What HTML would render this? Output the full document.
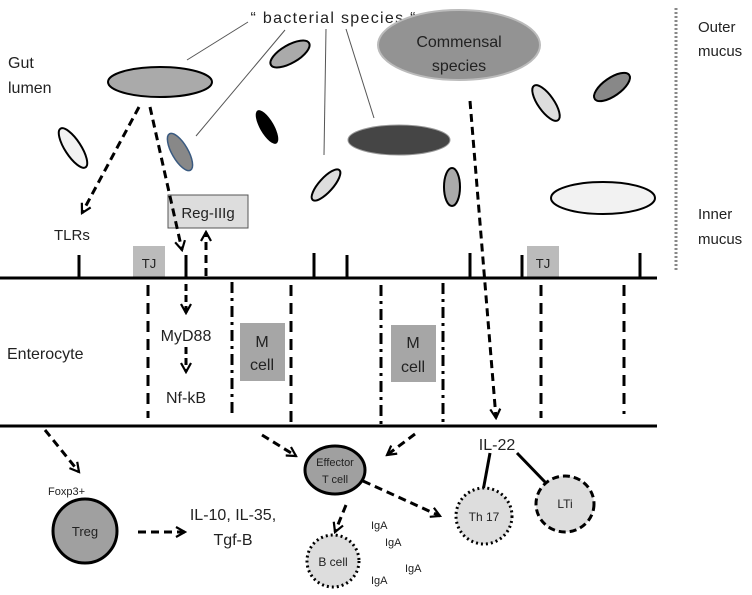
<!DOCTYPE html>
<html><head><meta charset="utf-8"><style>
html,body{margin:0;padding:0;background:#fff;}
svg{display:block;font-family:"Liberation Sans",sans-serif;}
</style></head><body>
<svg width="752" height="595" viewBox="0 0 752 595" xmlns="http://www.w3.org/2000/svg">
<defs>
<marker id="ah" viewBox="0 0 12 12" refX="10" refY="6" markerWidth="12" markerHeight="12" markerUnits="userSpaceOnUse" orient="auto">
<path d="M1,1 L10,6 L1,11" fill="none" stroke="#000" stroke-width="2.2"/>
</marker>
</defs>
<!-- text top -->
<text x="333" y="23" font-size="16" text-anchor="middle" fill="#222" textLength="165">“ bacterial species  “</text>
<text x="8" y="68" font-size="16" fill="#222">Gut</text>
<text x="8" y="93" font-size="16" fill="#222">lumen</text>
<text x="698" y="32" font-size="15" fill="#222">Outer</text>
<text x="698" y="56" font-size="15" fill="#222">mucus</text>
<text x="698" y="219" font-size="15" fill="#222">Inner</text>
<text x="698" y="244" font-size="15" fill="#222">mucus</text>
<line x1="676" y1="8" x2="676" y2="270" stroke="#888" stroke-width="3" stroke-dasharray="2,2"/>
<!-- thin label lines -->
<g stroke="#555" stroke-width="1">
<line x1="248" y1="22" x2="187" y2="60"/>
<line x1="285" y1="30" x2="196" y2="136"/>
<line x1="326" y1="29" x2="324" y2="155"/>
<line x1="346" y1="29" x2="374" y2="118"/>
</g>
<!-- bacteria -->
<ellipse cx="160" cy="82" rx="52" ry="15" fill="#aaa" stroke="#000" stroke-width="2"/>
<ellipse cx="459" cy="45" rx="81" ry="35" fill="#939393" stroke="#bbb" stroke-width="2"/>
<text x="459" y="47" font-size="16" text-anchor="middle" fill="#222">Commensal</text>
<text x="459" y="71" font-size="16" text-anchor="middle" fill="#222">species</text>
<ellipse cx="399" cy="140" rx="51" ry="15" fill="#454545" stroke="#999" stroke-width="1"/>
<ellipse cx="290" cy="54" rx="22" ry="9" transform="rotate(-30 290 54)" fill="#aaa" stroke="#000" stroke-width="2"/>
<ellipse cx="267" cy="127" rx="7" ry="19" transform="rotate(-30 267 127)" fill="#000"/>
<ellipse cx="73" cy="148" rx="8" ry="23" transform="rotate(-33 73 148)" fill="#f2f2f2" stroke="#000" stroke-width="2"/>
<ellipse cx="180" cy="152" rx="8" ry="21" transform="rotate(-30 180 152)" fill="#888" stroke="#3a5a80" stroke-width="1.5"/>
<ellipse cx="326" cy="185" rx="7" ry="20" transform="rotate(42 326 185)" fill="#ddd" stroke="#000" stroke-width="2"/>
<ellipse cx="452" cy="187" rx="8" ry="19" fill="#aaa" stroke="#000" stroke-width="2"/>
<ellipse cx="546" cy="103" rx="8" ry="21" transform="rotate(-35 546 103)" fill="#ddd" stroke="#000" stroke-width="2"/>
<ellipse cx="612" cy="87" rx="21" ry="9" transform="rotate(-35 612 87)" fill="#888" stroke="#000" stroke-width="2"/>
<ellipse cx="603" cy="198" rx="52" ry="16" fill="#f2f2f2" stroke="#000" stroke-width="2"/>
<rect x="168" y="195" width="80" height="33" fill="#ddd" stroke="#555" stroke-width="1"/>
<text x="208" y="218" font-size="15" text-anchor="middle" fill="#222">Reg-IIIg</text>
<!-- arrows top -->
<g stroke="#000" stroke-width="3" stroke-dasharray="8,5" fill="none">
<line x1="139" y1="107" x2="82" y2="213" marker-end="url(#ah)"/>
<line x1="150" y1="107" x2="182" y2="250" marker-end="url(#ah)"/>
<line x1="206" y1="276" x2="206" y2="232" marker-end="url(#ah)"/>
<line x1="470" y1="101" x2="496" y2="418" marker-end="url(#ah)"/>
</g>
<text x="54" y="240" font-size="15" fill="#222">TLRs</text>
<rect x="133" y="246" width="32" height="32" fill="#bbb"/>
<text x="149" y="268" font-size="13" text-anchor="middle" fill="#222">TJ</text>
<rect x="527" y="246" width="32" height="32" fill="#bbb"/>
<text x="543" y="268" font-size="13" text-anchor="middle" fill="#222">TJ</text>
<!-- membranes -->
<line x1="0" y1="278" x2="657" y2="278" stroke="#000" stroke-width="3"/>
<line x1="0" y1="426" x2="657" y2="426" stroke="#000" stroke-width="3"/>
<g stroke="#000" stroke-width="3">
<line x1="79" y1="255" x2="79" y2="278"/>
<line x1="186" y1="255" x2="186" y2="278"/>
<line x1="314" y1="253" x2="314" y2="278"/>
<line x1="347" y1="255" x2="347" y2="278"/>
<line x1="470" y1="253" x2="470" y2="278"/>
<line x1="522" y1="255" x2="522" y2="278"/>
<line x1="640" y1="253" x2="640" y2="278"/>
</g>
<!-- enterocyte dividers -->
<g stroke="#000" stroke-width="3" fill="none">
<line x1="148" y1="285" x2="148" y2="418" stroke-dasharray="11,7"/>
<line x1="291" y1="285" x2="291" y2="424" stroke-dasharray="11,7"/>
<line x1="541" y1="285" x2="541" y2="418" stroke-dasharray="11,7"/>
<line x1="624" y1="285" x2="624" y2="414" stroke-dasharray="11,7"/>
<line x1="232" y1="282" x2="232" y2="418" stroke-dasharray="11,5,3,5"/>
<line x1="381" y1="285" x2="381" y2="424" stroke-dasharray="11,5,3,5"/>
<line x1="443" y1="283" x2="443" y2="424" stroke-dasharray="11,5,3,5"/>
<line x1="186" y1="284" x2="186" y2="313" stroke-dasharray="7,4" marker-end="url(#ah)"/>
<line x1="186" y1="347" x2="186" y2="372" stroke-dasharray="7,4" marker-end="url(#ah)"/>
</g>
<text x="186" y="341" font-size="16" text-anchor="middle" fill="#222">MyD88</text>
<text x="186" y="403" font-size="16" text-anchor="middle" fill="#222">Nf-kB</text>
<text x="7" y="359" font-size="16" fill="#222">Enterocyte</text>
<rect x="240" y="323" width="45" height="58" fill="#a6a6a6"/>
<text x="262" y="347" font-size="16" text-anchor="middle" fill="#222">M</text>
<text x="262" y="370" font-size="16" text-anchor="middle" fill="#222">cell</text>
<rect x="391" y="325" width="45" height="57" fill="#a6a6a6"/>
<text x="413" y="348" font-size="16" text-anchor="middle" fill="#222">M</text>
<text x="413" y="372" font-size="16" text-anchor="middle" fill="#222">cell</text>
<!-- lower -->
<g stroke="#000" stroke-width="3" stroke-dasharray="8,5" fill="none">
<line x1="45" y1="430" x2="79" y2="472" marker-end="url(#ah)"/>
<line x1="138" y1="532" x2="185" y2="532" marker-end="url(#ah)"/>
<line x1="262" y1="435" x2="296" y2="456" marker-end="url(#ah)"/>
<line x1="415" y1="434" x2="387" y2="455" marker-end="url(#ah)"/>
<line x1="363" y1="481" x2="440" y2="516" marker-end="url(#ah)"/>
<line x1="346" y1="505" x2="335" y2="532" marker-end="url(#ah)"/>
</g>
<text x="48" y="495" font-size="11" fill="#222">Foxp3+</text>
<circle cx="85" cy="531" r="32" fill="#a0a0a0" stroke="#000" stroke-width="3"/>
<text x="85" y="536" font-size="13" text-anchor="middle" fill="#222">Treg</text>
<text x="233" y="520" font-size="16" text-anchor="middle" fill="#222">IL-10, IL-35,</text>
<text x="233" y="545" font-size="16" text-anchor="middle" fill="#222">Tgf-B</text>
<ellipse cx="335" cy="470" rx="30" ry="24" fill="#a0a0a0" stroke="#000" stroke-width="3"/>
<text x="335" y="466" font-size="11" text-anchor="middle" fill="#222">Effector</text>
<text x="335" y="483" font-size="11" text-anchor="middle" fill="#222">T cell</text>
<circle cx="333" cy="561" r="26" fill="#ddd" stroke="#000" stroke-width="3" stroke-dasharray="2,3"/>
<text x="333" y="566" font-size="12" text-anchor="middle" fill="#222">B cell</text>
<g font-size="11" fill="#222">
<text x="371" y="529">IgA</text>
<text x="385" y="546">IgA</text>
<text x="405" y="572">IgA</text>
<text x="371" y="584">IgA</text>
</g>
<text x="497" y="450" font-size="16" text-anchor="middle" fill="#222">IL-22</text>
<line x1="490" y1="453" x2="483" y2="491" stroke="#000" stroke-width="3"/>
<line x1="517" y1="453" x2="545" y2="482" stroke="#000" stroke-width="3"/>
<circle cx="484" cy="516" r="28" fill="#ddd" stroke="#000" stroke-width="3" stroke-dasharray="2,3"/>
<text x="484" y="521" font-size="12" text-anchor="middle" fill="#222">Th 17</text>
<ellipse cx="565" cy="504" rx="29" ry="28" fill="#ddd" stroke="#000" stroke-width="3" stroke-dasharray="7,4"/>
<text x="565" y="508" font-size="12" text-anchor="middle" fill="#222">LTi</text>
</svg>
</body></html>
